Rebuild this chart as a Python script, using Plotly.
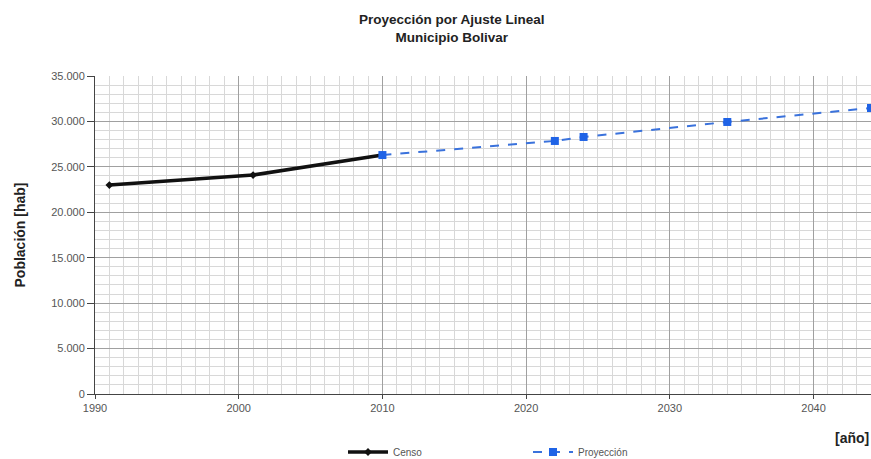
import plotly.graph_objects as go

# Census population (inhabitants)
censo_anos = [1991, 2001, 2010]
censo_pob = [23000, 24100, 26300]

# Linear-fit projection
proy_anos = [2010, 2022, 2024, 2034, 2044]
proy_pob = [26300, 27850, 28290, 29940, 31480]

y_ticks = [0, 5000, 10000, 15000, 20000, 25000, 30000, 35000]
x_ticks = [1990, 2000, 2010, 2020, 2030, 2040]

fig = go.Figure()

fig.add_trace(go.Scatter(
    x=censo_anos, y=censo_pob, name="Censo", mode="lines+markers",
    line=dict(color="#111111", width=3.5),
    marker=dict(symbol="diamond", size=6, color="#111111"),
))
fig.add_trace(go.Scatter(
    x=proy_anos, y=proy_pob, name="Proyección", mode="lines+markers",
    line=dict(color="#3a72dc", width=2, dash="dash"),
    marker=dict(symbol="square", size=8, color="#1f63e6"),
    cliponaxis=False,
))

font_main = "Liberation Sans, Arial, sans-serif"

fig.update_layout(
    width=871, height=459,
    margin=dict(l=95, r=0, t=76, b=65, autoexpand=False),
    paper_bgcolor="white", plot_bgcolor="white",
    separators=",.",
    font=dict(family=font_main, size=11, color="#555555"),
    showlegend=True,
    legend=dict(
        orientation="h", xref="container", yref="container",
        x=343 / 871, y=1 - 452 / 459, xanchor="left", yanchor="middle",
        entrywidth=130, entrywidthmode="pixels",
        font=dict(size=10, color="#555555"), bgcolor="rgba(0,0,0,0)",
        itemwidth=40, tracegroupgap=0,
    ),
    annotations=[
        dict(text="<b>Proyección por Ajuste Lineal</b><br><b>Municipio Bolivar</b>",
             xref="paper", yref="paper", x=(452 - 95) / 776, y=1.0,
             yshift=66, xanchor="center", yanchor="top", showarrow=False,
             font=dict(family=font_main, size=13.5, color="#222222")),
        dict(text="<b>[año]</b>", xref="paper", yref="paper", x=1.0, y=0,
             yshift=-44, xanchor="right", yanchor="middle", showarrow=False,
             font=dict(family=font_main, size=14, color="#222222")),
    ],
)

fig.update_xaxes(
    range=[1990, 2044], tickvals=x_ticks,
    showgrid=True, gridcolor="#a0a0a0", gridwidth=1,
    minor=dict(dtick=1, tick0=1990, showgrid=True, gridcolor="#d8d8d8", gridwidth=1),
    showline=True, linecolor="#444444", linewidth=1,
    ticks="outside", ticklen=4, tickcolor="#444444",
    zeroline=False, fixedrange=True,
)
fig.update_yaxes(
    range=[0, 35000], tickvals=y_ticks, tickformat=",d",
    showgrid=True, gridcolor="#a0a0a0", gridwidth=1,
    minor=dict(dtick=1000, tick0=0, showgrid=True, gridcolor="#d8d8d8", gridwidth=1),
    showline=True, linecolor="#444444", linewidth=1,
    ticks="outside", ticklen=7, tickcolor="#444444",
    zeroline=False, fixedrange=True,
    title=dict(text="<b>Población [hab]</b>", standoff=22,
               font=dict(family=font_main, size=14, color="#222222")),
)

fig.write_html("out.html")
